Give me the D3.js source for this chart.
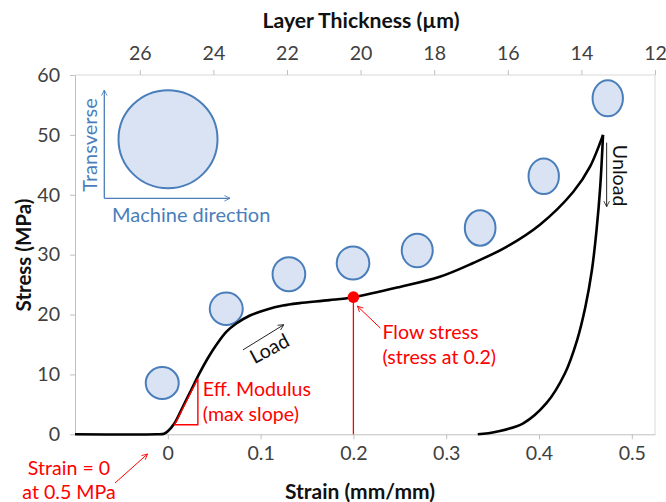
<!DOCTYPE html>
<html>
<head>
<meta charset="utf-8">
<script src="https://cdn.jsdelivr.net/npm/d3@7"></script>
<style>
  html, body { margin: 0; padding: 0; background: #fff; }
  svg { display: block; font-family: Lato, "Open Sans", sans-serif; }
</style>
</head>
<body>
<svg id="chart" width="666" height="502"></svg>
<script>
// Loading branch of the stress–strain curve (strain mm/mm, stress MPa)
const loadStrain = [-0.1, -0.012, -0.004, 0, 0.0072, 0.0162, 0.0252, 0.0342, 0.0431, 0.0522, 0.063, 0.0738, 0.088, 0.106, 0.124, 0.142, 0.174, 0.2, 0.25, 0.293, 0.329, 0.365, 0.401, 0.437, 0.455, 0.469];
const loadStress = [0, 0, 0.1, 0.5, 1.84, 4.6, 7.4, 10.2, 12.7, 14.9, 17.1, 18.5, 19.8, 20.8, 21.5, 21.9, 22.4, 22.9, 24.6, 26.3, 28.6, 31.3, 35.0, 40.5, 44.7, 50.0];

// Unloading branch, from the end of the recovery back up to the peak
const unloadStrain = [0.334, 0.354, 0.383, 0.408, 0.428, 0.441, 0.450, 0.457, 0.462, 0.466, 0.469];
const unloadStress = [0, 0.43, 1.84, 5.2, 10.2, 15.7, 21.3, 27.4, 34.1, 41.4, 50.0];

// Pore shape sketches along the loading path (relative width / height)
const poreStrain = [-0.006, 0.063, 0.1305, 0.1996, 0.2688, 0.3366, 0.4051, 0.4741];
const poreStress = [8.57, 20.96, 26.74, 28.6, 30.7, 34.45, 43.1, 56.1];
const poreWidth  = [1.0, 1.0, 0.99, 0.99, 0.94, 0.93, 0.92, 0.92];
const poreHeight = [0.97, 0.98, 1.03, 1.0, 1.02, 1.07, 1.08, 1.09];

// Axis ticks
const strainTicks = [0, 0.1, 0.2, 0.3, 0.4, 0.5];
const stressTicks = [0, 10, 20, 30, 40, 50, 60];
const thicknessTicks = [26, 24, 22, 20, 18, 16, 14, 12];

// Annotated points
const flowStrain = 0.2, flowStress = 22.9;
const modulusFrom = [0.0072, 1.6], modulusTo = [0.0324, 9.3];

const svg = d3.select("#chart");
const W = 666, H = 502;
const m = { left: 75, right: 11, top: 75, bottom: 67.7 };
const x = d3.scaleLinear([-0.1, 0.525], [m.left, W - m.right]);
const y = d3.scaleLinear([0, 60], [H - m.bottom, m.top]);
const xTop = d3.scaleLinear([27.76, 12], [m.left, W - m.right]);

const RED = "#ff0000", BLUE = "#4a7ebb", FILL = "#dae3f3", AX = "#bfbfbf", TXT = "#404040";
const FS = 19.6;

const defs = svg.append("defs");
function openArrow(id, color) {
  defs.append("marker").attr("id", id)
    .attr("viewBox", "0 0 10 10").attr("refX", 9).attr("refY", 5)
    .attr("markerWidth", 7).attr("markerHeight", 7).attr("markerUnits", "userSpaceOnUse")
    .attr("orient", "auto")
    .append("path").attr("d", "M1,1 L9,5 L1,9").attr("fill", "none")
    .attr("stroke", color).attr("stroke-width", 1.2);
}
openArrow("arrK", "#222");
openArrow("arrR", RED);
openArrow("arrB", BLUE);

// plot frame (top and right)
svg.append("path")
  .attr("d", `M${m.left},${m.top}H${W - m.right}V${H - m.bottom}`)
  .attr("fill", "none").attr("stroke", "#d9d9d9").attr("stroke-width", 1);

function styleAxis(g) {
  g.selectAll(".domain").attr("stroke", AX);
  g.selectAll(".tick line").attr("stroke", AX);
  g.selectAll(".tick text").attr("fill", TXT).attr("font-size", FS).attr("font-family", "Lato, sans-serif");
}

svg.append("g").attr("transform", `translate(0,${y(0)})`)
  .call(d3.axisBottom(x).tickValues(strainTicks).tickSize(5).tickSizeOuter(0).tickPadding(7)
    .tickFormat(d => d === 0 ? "0" : d3.format(".1f")(d)))
  .call(styleAxis);

svg.append("g").attr("transform", `translate(${m.left},0)`)
  .call(d3.axisLeft(y).tickValues(stressTicks).tickSize(5).tickSizeOuter(0).tickPadding(10))
  .call(styleAxis);

svg.append("g").attr("transform", `translate(0,${m.top})`)
  .call(d3.axisTop(xTop).tickValues(thicknessTicks).tickSize(5).tickSizeOuter(0).tickPadding(10))
  .call(styleAxis)
  .call(g => g.select(".domain").remove());

// axis titles
svg.append("text").attr("x", 361).attr("y", 28).attr("text-anchor", "middle")
  .attr("font-size", 21.2).attr("font-weight", "bold").attr("fill", "#111")
  .text("Layer Thickness (µm)");
svg.append("text").attr("x", 360).attr("y", 499).attr("text-anchor", "middle")
  .attr("font-size", 21).attr("font-weight", "bold").attr("fill", "#111")
  .text("Strain (mm/mm)");
svg.append("text").attr("transform", "translate(31,255) rotate(-90)").attr("text-anchor", "middle")
  .attr("font-size", 20.5).attr("font-weight", "bold").attr("fill", "#111")
  .text("Stress (MPa)");

// inset: undeformed pore with its directions
const inset = svg.append("g");
inset.append("ellipse").attr("cx", 168).attr("cy", 139.2).attr("rx", 49.5).attr("ry", 49)
  .attr("fill", FILL).attr("stroke", BLUE).attr("stroke-width", 2);
inset.append("path").attr("d", "M104.3,198.3V90").attr("stroke", BLUE).attr("stroke-width", 1.3)
  .attr("fill", "none").attr("marker-end", "url(#arrB)");
inset.append("path").attr("d", "M104.3,198.3H230").attr("stroke", BLUE).attr("stroke-width", 1.3)
  .attr("fill", "none").attr("marker-end", "url(#arrB)");
inset.append("text").attr("transform", "translate(97,145) rotate(-90)").attr("text-anchor", "middle")
  .attr("font-size", 20).attr("fill", BLUE).text("Transverse");
inset.append("text").attr("x", 112).attr("y", 222).attr("font-size", 20).attr("fill", BLUE)
  .text("Machine direction");

// pore shapes along the curve
const poreR = 16.5;
svg.append("g").selectAll("ellipse").data(poreStrain).join("ellipse")
  .attr("cx", (d, i) => x(d)).attr("cy", (d, i) => y(poreStress[i]))
  .attr("rx", (d, i) => poreR * poreWidth[i]).attr("ry", (d, i) => poreR * poreHeight[i])
  .attr("fill", FILL).attr("stroke", BLUE).attr("stroke-width", 2);

// flow-stress drop line
svg.append("line").attr("x1", x(flowStrain)).attr("x2", x(flowStrain))
  .attr("y1", y(flowStress)).attr("y2", y(0)).attr("stroke", RED).attr("stroke-width", 1.3);

// curves
const line = d3.line().curve(d3.curveCatmullRom.alpha(0.5));
svg.append("path").attr("d", line(loadStrain.map((s, i) => [x(s), y(loadStress[i])])))
  .attr("fill", "none").attr("stroke", "#000").attr("stroke-width", 2.6).attr("stroke-linejoin", "round");
svg.append("path").attr("d", line(unloadStrain.map((s, i) => [x(s), y(unloadStress[i])])))
  .attr("fill", "none").attr("stroke", "#000").attr("stroke-width", 2.6).attr("stroke-linejoin", "round");

// effective modulus triangle
svg.append("path")
  .attr("d", `M${x(modulusFrom[0])},${y(modulusFrom[1])}L${x(modulusTo[0])},${y(modulusTo[1])}` +
             `V${y(modulusFrom[1])}Z`)
  .attr("fill", "none").attr("stroke", RED).attr("stroke-width", 1.4);
svg.append("text").attr("x", x(modulusTo[0]) + 5).attr("y", y(modulusTo[1]) + 17)
  .attr("font-size", FS).attr("fill", RED).text("Eff. Modulus");
svg.append("text").attr("x", x(modulusTo[0]) + 5).attr("y", y(modulusTo[1]) + 42)
  .attr("font-size", FS).attr("fill", RED).text("(max slope)");

// flow stress marker
const fx = x(flowStrain), fy = y(flowStress);
svg.append("circle").attr("cx", fx).attr("cy", fy).attr("r", 5.8).attr("fill", RED);
svg.append("line").attr("x1", fx + 27).attr("y1", fy + 31).attr("x2", fx + 4).attr("y2", fy + 9)
  .attr("stroke", RED).attr("stroke-width", 1).attr("marker-end", "url(#arrR)");
svg.append("text").attr("x", fx + 29).attr("y", fy + 42).attr("font-size", FS).attr("fill", RED).text("Flow stress");
svg.append("text").attr("x", fx + 29).attr("y", fy + 67).attr("font-size", FS).attr("fill", RED).text("(stress at 0.2)");

// strain origin note
svg.append("text").attr("x", 69).attr("y", 475).attr("text-anchor", "middle")
  .attr("font-size", FS).attr("fill", RED).text("Strain = 0");
svg.append("text").attr("x", 69).attr("y", 499).attr("text-anchor", "middle")
  .attr("font-size", FS).attr("fill", RED).text("at 0.5 MPa");
svg.append("line").attr("x1", 115).attr("y1", 483).attr("x2", 147.5).attr("y2", 454)
  .attr("stroke", RED).attr("stroke-width", 1).attr("marker-end", "url(#arrR)");

// load / unload direction labels
svg.append("line").attr("x1", x(0.081)).attr("y1", y(14.1)).attr("x2", x(0.125)).attr("y2", y(18.3))
  .attr("stroke", "#222").attr("stroke-width", 1).attr("marker-end", "url(#arrK)");
svg.append("text").attr("transform", `translate(${x(0.113)},${y(13.3)}) rotate(-28)`)
  .attr("text-anchor", "middle").attr("font-size", FS).attr("fill", "#111").text("Load");

svg.append("line").attr("x1", x(0.4729)).attr("y1", y(48.7)).attr("x2", x(0.4729)).attr("y2", y(38.0))
  .attr("stroke", "#222").attr("stroke-width", 1).attr("marker-end", "url(#arrK)");
svg.append("text").attr("transform", `translate(${x(0.4795)},${y(43.2)}) rotate(90)`)
  .attr("text-anchor", "middle").attr("font-size", FS).attr("fill", "#111").text("Unload");
</script>
</body>
</html>
